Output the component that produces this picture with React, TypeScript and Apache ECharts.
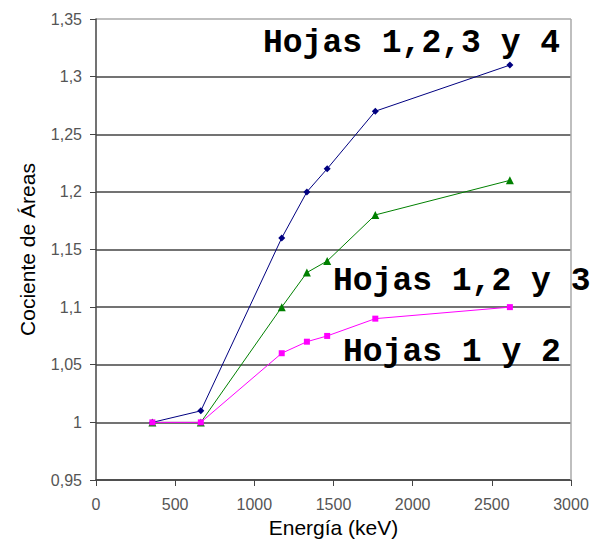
import React, { useEffect, useRef } from "react";
import * as echarts from "echarts";

const energies = [356, 662, 1173, 1332, 1460, 1764, 2614];
const hojas1234 = [1.0, 1.01, 1.16, 1.2, 1.22, 1.27, 1.31];
const hojas123 = [1.0, 1.0, 1.1, 1.13, 1.14, 1.18, 1.21];
const hojas12 = [1.0, 1.0, 1.06, 1.07, 1.075, 1.09, 1.1];
const yTicks = [0.95, 1.0, 1.05, 1.1, 1.15, 1.2, 1.25, 1.3, 1.35];
const xTicks = [0, 500, 1000, 1500, 2000, 2500, 3000];

const pairs = (ys: number[]) => energies.map((e, i) => [e, ys[i]]);

export default function App() {
  const ref = useRef<HTMLDivElement>(null);
  useEffect(() => {
    document.body.style.margin = "0";
    if (!ref.current) return;
    const chart = echarts.init(ref.current, null, { renderer: "svg" });
    const ann = {
      fontFamily: "'Liberation Mono', 'Courier New', monospace",
      fontWeight: "bold",
      fontSize: 33,
      fill: "#000",
    };
    const labelFont = "Arial, 'Liberation Sans', sans-serif";
    chart.setOption({
      animation: false,
      backgroundColor: "#fff",
      grid: { left: 96, right: 21, top: 19, bottom: 63 },
      xAxis: {
        type: "value",
        min: 0,
        max: 3000,
        interval: 500,
        name: "Energía (keV)",
        nameLocation: "middle",
        nameGap: 34,
        nameTextStyle: { fontFamily: labelFont, fontSize: 21, color: "#000" },
        axisLine: { lineStyle: { color: "#444", width: 1.5 } },
        axisTick: { show: true, length: 6, lineStyle: { color: "#444" } },
        axisLabel: {
          fontFamily: labelFont,
          fontSize: 16,
          color: "#555",
          margin: 16,
          formatter: (v: number) => {
            const t = xTicks.find((x) => Math.abs(x - v) < 1e-6);
            return String(t !== undefined ? t : v);
          },
        },
        splitLine: { show: false },
      },
      yAxis: {
        type: "value",
        min: 0.95,
        max: 1.35,
        interval: 0.05,
        name: "Cociente de Áreas",
        nameLocation: "middle",
        nameGap: 58,
        nameTextStyle: { fontFamily: labelFont, fontSize: 21, color: "#000" },
        axisLine: { lineStyle: { color: "#444", width: 1.5 } },
        axisTick: { show: true, length: 6, lineStyle: { color: "#444" } },
        axisLabel: {
          fontFamily: labelFont,
          fontSize: 16,
          color: "#555",
          margin: 14,
          formatter: (v: number) => {
            const t = yTicks.find((x) => Math.abs(x - v) < 1e-6);
            const val = t !== undefined ? t : v;
            return String(Number(val.toFixed(2))).replace(".", ",");
          },
        },
        splitLine: {
          show: true,
          lineStyle: {
            color: ["#444", "#444", "#444", "#444", "#444", "#444", "#444", "#444", "#aaa"],
            width: 1.5,
          },
        },
      },
      series: [
        {
          type: "line",
          name: "Hojas 1,2,3 y 4",
          data: pairs(hojas1234),
          symbol: "diamond",
          symbolSize: 7,
          lineStyle: { color: "#000080", width: 1 },
          itemStyle: { color: "#000080" },
          z: 3,
        },
        {
          type: "line",
          name: "Hojas 1,2 y 3",
          data: pairs(hojas123),
          symbol: "triangle",
          symbolSize: 8,
          lineStyle: { color: "#008000", width: 1 },
          itemStyle: { color: "#008000" },
          z: 4,
        },
        {
          type: "line",
          name: "Hojas 1 y 2",
          data: pairs(hojas12),
          symbol: "rect",
          symbolSize: 6,
          lineStyle: { color: "#ff00ff", width: 1 },
          itemStyle: { color: "#ff00ff" },
          z: 5,
        },
      ],
      graphic: [
        {
          type: "line",
          shape: { x1: 571, y1: 19, x2: 571, y2: 480 },
          style: { stroke: "#aaa", lineWidth: 1.5 },
          z: 1,
        },
        { type: "text", left: 263, top: 27, style: { ...ann, text: "Hojas 1,2,3 y 4" }, z: 10 },
        { type: "text", left: 333, top: 265, style: { ...ann, text: "Hojas 1,2 y 3" }, z: 10 },
        { type: "text", left: 343, top: 336, style: { ...ann, text: "Hojas 1 y 2" }, z: 10 },
      ],
    });
    return () => chart.dispose();
  }, []);
  return <div ref={ref} style={{ width: 592, height: 543 }} />;
}
